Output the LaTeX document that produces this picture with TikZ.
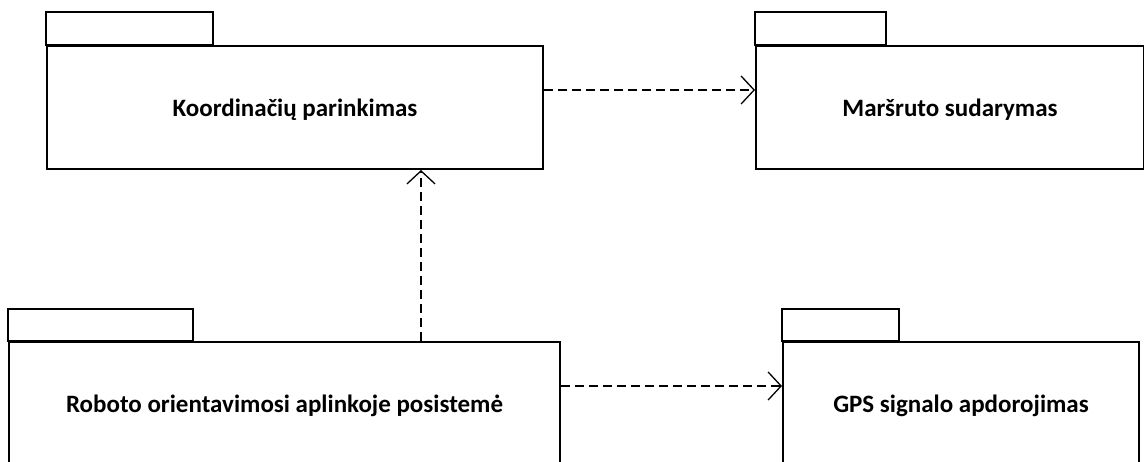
\documentclass[tikz,border=0pt]{standalone}
\usepackage{fontspec}
\setmainfont{Carlito}
\usetikzlibrary{arrows.meta}
\begin{document}
\begin{tikzpicture}[x=1pt,y=-1pt,
  pkg/.style={draw, line width=2pt, rectangle, inner sep=0pt, anchor=north west,
    text depth=0pt, font=\fontsize{25}{30}\selectfont\bfseries},
  tabbox/.style={draw, line width=2pt},
  dep/.style={draw, line width=1.3pt, dash pattern=on 9pt off 5pt,
    -{Straight Barb[length=13pt,width=28pt,line width=1.3pt]}}]
  \useasboundingbox (0,0) rectangle (1144,461);
  \begin{scope}
  \clip (0,0) rectangle (1144,461);
  % package bodies
  \node[pkg, minimum width=496pt, minimum height=123pt] (K) at (46,45) {Koordinačių parinkimas};
  \node[pkg, minimum width=388pt, minimum height=123pt] (M) at (755,45) {Maršruto sudarymas};
  \node[pkg, minimum width=551pt, minimum height=123pt] (R) at (8,341) {Roboto orientavimosi aplinkoje posistemė};
  \node[pkg, minimum width=356pt, minimum height=123pt] (G) at (782,341) {GPS signalo apdorojimas};
  % package tabs
  \draw[tabbox] (K.north west) rectangle ++(167,-33);
  \draw[tabbox] (M.north west) rectangle ++(131,-33);
  \draw[tabbox] (R.north west) rectangle ++(185,-32);
  \draw[tabbox] (G.north west) rectangle ++(117,-32);
  % dependencies
  \draw[dep] ([yshift=-45pt]K.north east) -- ([yshift=-45pt]M.north west);
  \draw[dep] ([xshift=413pt]R.north west) -- ([xshift=375pt]K.south west);
  \draw[dep] ([yshift=-45pt]R.north east) -- ([yshift=-45pt]G.north west);
  \end{scope}
\end{tikzpicture}
\end{document}
